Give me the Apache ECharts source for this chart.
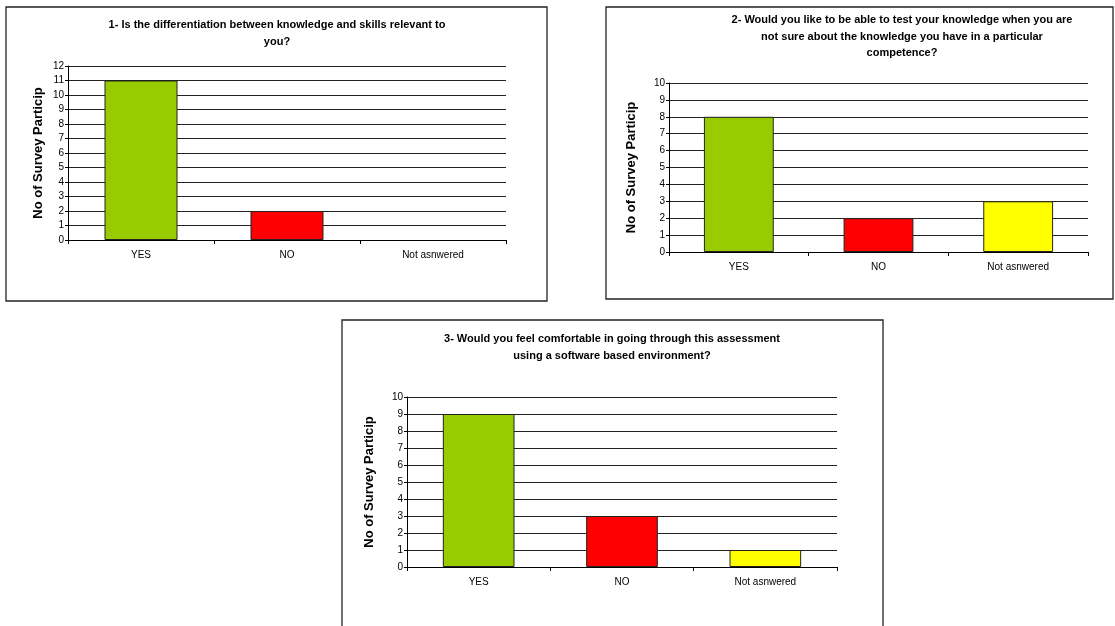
<!DOCTYPE html>
<html>
<head>
<meta charset="utf-8">
<script src="https://cdn.jsdelivr.net/npm/echarts@6/dist/echarts.min.js"></script>
<style>
  html, body { margin: 0; padding: 0; background: #fff; }
  #main { width: 1115px; height: 626px; }
</style>
</head>
<body>
<div id="main"></div>
<script>
var myChart = echarts.init(document.getElementById('main'));

// data
var categories = ['YES', 'NO', 'Not asnwered'];
var q1Values = [11, 2, 0];
var q2Values = [8, 2, 3];
var q3Values = [9, 3, 1];
var q1Title = '1- Is the differentiation between knowledge and skills relevant to\nyou?';
var q2Title = '2- Would you like to be able to test your knowledge when you are\nnot sure about the knowledge you have in a particular\ncompetence?';
var q3Title = '3- Would you feel comfortable in going through this assessment\nusing a software based environment?';
var yName = 'No of Survey Particip';
var barColors = ['#99CC00', '#FF0000', '#FFFF00'];

var font = '"Liberation Sans", Arial, sans-serif';

// panel layout: border box, plot box, title anchor, y max, name gap
var panels = [
    { box: [6, 7, 541, 294], grid: [68, 66, 438, 174], title: [277, 17], max: 12, gap: 23, values: q1Values, text: q1Title },
    { box: [606, 7, 507, 292], grid: [669, 83, 419, 169], title: [902, 12], max: 10, gap: 31, values: q2Values, text: q2Title },
    { box: [342, 320, 541, 330], grid: [407, 397, 430, 170], title: [612, 331], max: 10, gap: 31, values: q3Values, text: q3Title }
];

var option = {
    backgroundColor: '#fff',
    animation: false,
    title: [],
    grid: [],
    xAxis: [],
    yAxis: [],
    series: [],
    graphic: []
};

panels.forEach(function (p, i) {
    option.graphic.push({
        type: 'rect',
        shape: { x: p.box[0], y: p.box[1], width: p.box[2], height: p.box[3] },
        style: { fill: 'none', stroke: '#222', lineWidth: 1.3 },
        z: 0
    });
    option.title.push({
        text: p.text,
        left: p.title[0],
        top: p.title[1],
        textAlign: 'center',
        padding: 0,
        textStyle: {
            fontFamily: font,
            fontSize: 11,
            fontWeight: 'bold',
            color: '#000',
            lineHeight: 16.5
        }
    });
    option.grid.push({
        left: p.grid[0],
        top: p.grid[1],
        width: p.grid[2],
        height: p.grid[3],
        containLabel: false
    });
    option.xAxis.push({
        type: 'category',
        gridIndex: i,
        data: categories,
        axisLine: { lineStyle: { color: '#000', width: 1 } },
        axisTick: { show: true, length: 4, alignWithLabel: false, lineStyle: { color: '#000' } },
        axisLabel: { color: '#000', fontFamily: font, fontSize: 10, margin: 10 },
        splitLine: { show: false }
    });
    option.yAxis.push({
        type: 'value',
        gridIndex: i,
        min: 0,
        max: p.max,
        interval: 1,
        name: yName,
        nameLocation: 'middle',
        nameGap: p.gap,
        nameTextStyle: { fontFamily: font, fontSize: 13, fontWeight: 'bold', color: '#000' },
        axisLine: { show: true, lineStyle: { color: '#000', width: 1 } },
        axisTick: { show: true, length: 3, lineStyle: { color: '#000' } },
        axisLabel: { color: '#000', fontFamily: font, fontSize: 10, margin: 4 },
        splitLine: { show: true, lineStyle: { color: '#222', width: 1 } }
    });
    option.series.push({
        type: 'bar',
        xAxisIndex: i,
        yAxisIndex: i,
        barWidth: '50%',
        data: p.values.map(function (v, k) {
            return {
                value: v,
                itemStyle: { color: barColors[k], borderColor: '#222', borderWidth: v > 0 ? 1 : 0 }
            };
        })
    });
});

myChart.setOption(option);
</script>
</body>
</html>
